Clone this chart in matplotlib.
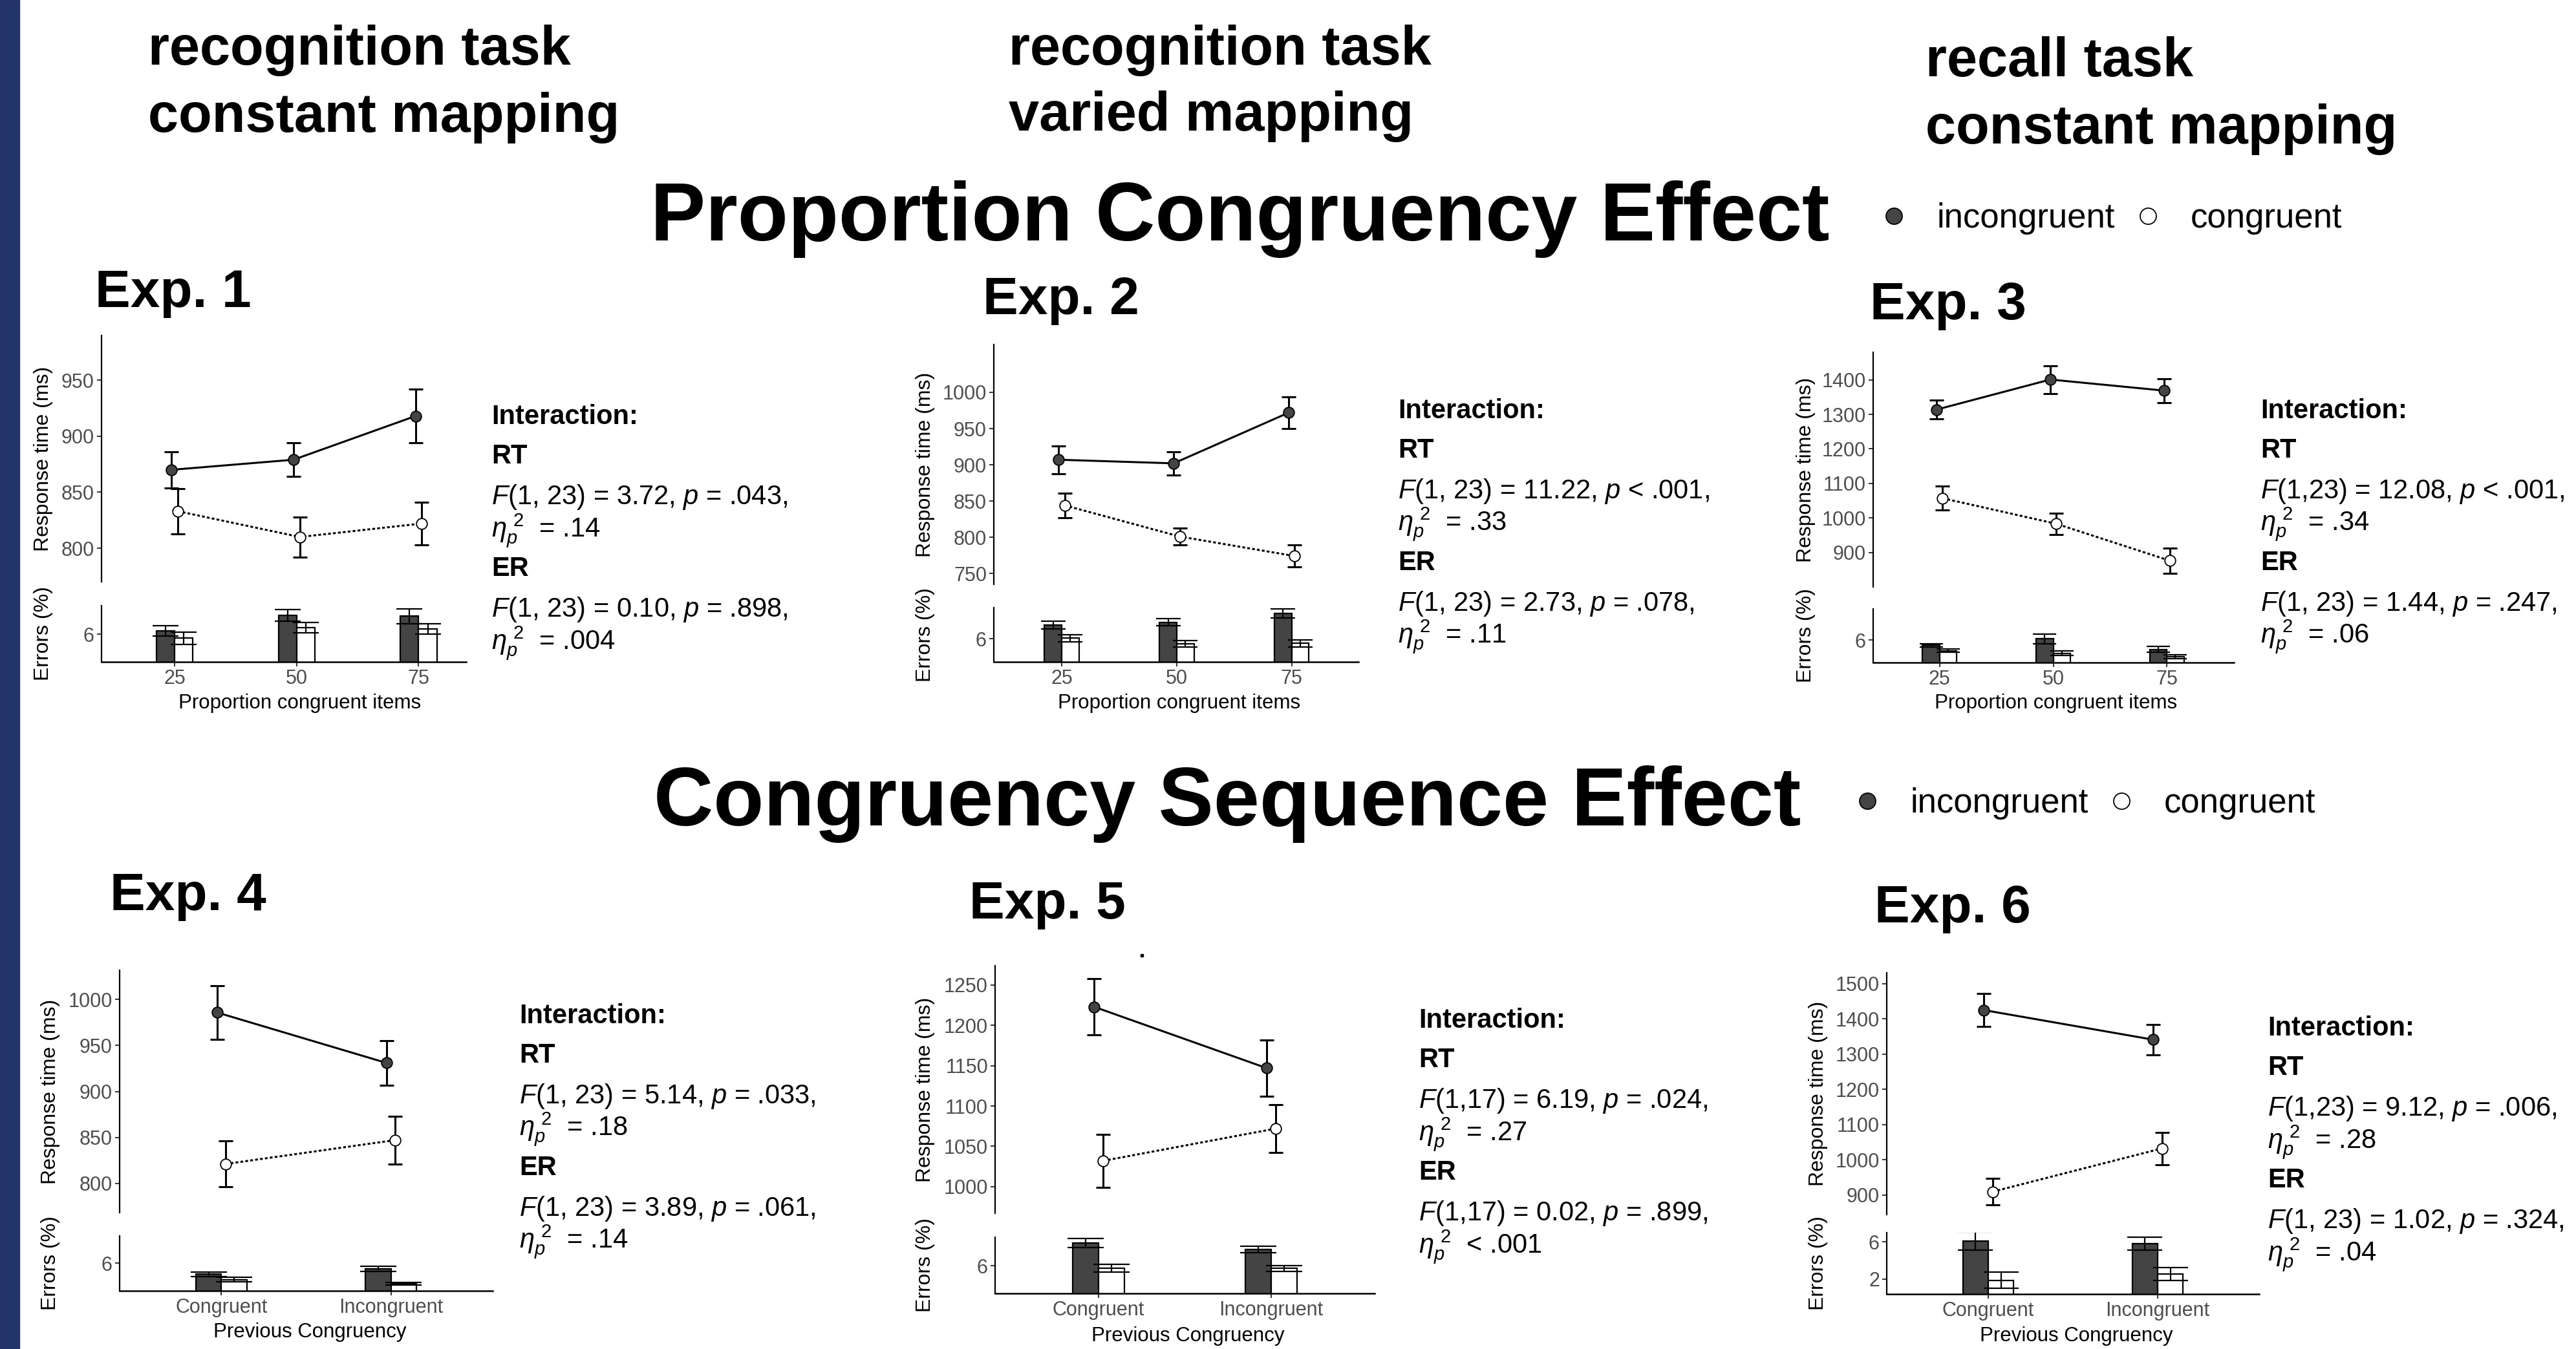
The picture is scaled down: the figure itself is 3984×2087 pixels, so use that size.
import numpy as np
import matplotlib
matplotlib.use("Agg")
import matplotlib.pyplot as plt
from matplotlib.lines import Line2D
from matplotlib.patches import Rectangle

plt.rcParams["font.family"] = ["Liberation Sans", "DejaVu Sans"]
plt.rcParams["mathtext.fontset"] = "custom"
plt.rcParams["mathtext.rm"] = "Liberation Sans"
plt.rcParams["mathtext.it"] = "Liberation Sans:italic"
plt.rcParams["mathtext.bf"] = "Liberation Sans:bold"

# ---- data ----
pc_levels = ["25", "50", "75"]
seq_levels = ["Congruent", "Incongruent"]
exp_names = ["Exp. 1", "Exp. 2", "Exp. 3", "Exp. 4", "Exp. 5", "Exp. 6"]

rt_inc = [[870, 879, 918], [907, 902, 972], [1314, 1401, 1369],
          [986, 931], [1223, 1147], [1425, 1341]]
rt_inc_se = [[16, 15, 24], [19, 16, 22], [27, 40, 35],
             [29, 24], [35, 35], [47, 43]]
rt_con = [[833, 810, 822], [844, 801, 774], [1057, 983, 876],
          [821, 847], [1032, 1072], [909, 1032]]
rt_con_se = [[20, 18, 19], [17, 12, 15], [35, 31, 37],
             [25, 26], [33, 30], [37, 46]]

er_inc = [[6.37, 8.0, 7.92], [7.46, 7.75, 8.68], [5.44, 6.14, 5.01],
          [4.82, 5.41], [8.44, 7.74], [6.08, 5.80]]
er_inc_se = [[0.54, 0.63, 0.79], [0.39, 0.37, 0.49], [0.18, 0.52, 0.28],
             [0.24, 0.28], [0.46, 0.35], [0.97, 0.70]]
er_con = [[5.58, 6.70, 6.54], [6.06, 5.44, 5.49], [4.87, 4.59, 4.25],
          [4.21, 3.79], [5.72, 5.72], [1.86, 2.54]]
er_con_se = [[0.66, 0.55, 0.56], [0.37, 0.35, 0.37], [0.18, 0.24, 0.21],
             [0.24, 0.17], [0.41, 0.31], [0.89, 0.70]]

rt_ticks = [[800, 850, 900, 950], [750, 800, 850, 900, 950, 1000],
            [900, 1000, 1100, 1200, 1300, 1400], [800, 850, 900, 950, 1000],
            [1000, 1050, 1100, 1150, 1200, 1250],
            [900, 1000, 1100, 1200, 1300, 1400, 1500]]
er_ticks = [[6], [6], [6], [6], [6], [2, 6]]

eta = r"$\eta_p^{\ 2}$"
stats = [
    ["$F$(1, 23) = 3.72, $p$ = .043,", eta + "  = .14",
     "$F$(1, 23) = 0.10, $p$ = .898,", eta + "  = .004"],
    ["$F$(1, 23) = 11.22, $p$ < .001,", eta + "  = .33",
     "$F$(1, 23) = 2.73, $p$ = .078,", eta + "  = .11"],
    ["$F$(1,23) = 12.08, $p$ < .001,", eta + "  = .34",
     "$F$(1, 23) = 1.44, $p$ = .247,", eta + "  = .06"],
    ["$F$(1, 23) = 5.14, $p$ = .033,", eta + "  = .18",
     "$F$(1, 23) = 3.89, $p$ = .061,", eta + "  = .14"],
    ["$F$(1,17) = 6.19, $p$ = .024,", eta + "  = .27",
     "$F$(1,17) = 0.02, $p$ = .899,", eta + "  < .001"],
    ["$F$(1,23) = 9.12, $p$ = .006,", eta + "  = .28",
     "$F$(1, 23) = 1.02, $p$ = .324,", eta + "  = .04"],
]

# ---- layout (pixels of the 3984x2087 canvas) ----
W, H = 3984, 2087
DPI = 100
PT = DPI / 72.0

# x0, x1, rt top, rt bottom, er top, er bottom
boxes = [
    (157, 721, 519, 900, 937, 1024),
    (1537, 2101, 533, 904, 940, 1024),
    (2897, 3455, 545, 908, 942, 1025),
    (185, 762, 1501, 1876, 1912, 1997),
    (1539, 2126, 1494, 1877, 1914, 2001),
    (2918, 3494, 1505, 1879, 1907, 2002),
]
xlims = [(0.40, 3.39), (0.41, 3.58), (0.415, 3.59), (0.4, 2.6), (0.4, 2.6), (0.4, 2.6)]
rt_lims = [(770, 990), (735, 1066), (800, 1480), (768, 1032), (967, 1274), (844, 1531)]
er_lims = [(3.04, 9.04), (3.52, 9.32), (3.61, 9.30), (3.03, 8.91), (3.06, 9.05), (0.37, 6.99)]
ylab_x = [67, 1431, 2793, 78, 1431, 2812]
xlab_pos = [(464, 1088), (1824, 1088), (3180, 1088), (479, 2061), (1837, 2067), (3211, 2067)]
stat_pos = [(760, 656), (2162, 647), (3496, 647), (803, 1583), (2194, 1590), (3507, 1602)]
stat_dy = [0, 61, 124, 174, 235, 298, 348]
exp_pos = [(147, 475), (1520, 486), (2892, 494), (170, 1408), (1499, 1421), (2899, 1427)]

dark = "#444444"
tick_col = "#4d4d4d"
dodge = 0.026
bw = 0.15


def fx(px):
    return px / W


def fy(py):
    return 1 - py / H


fig = plt.figure(figsize=(W / DPI, H / DPI), dpi=DPI, facecolor="white")


def add_ax(x0, x1, y0, y1):
    return fig.add_axes([fx(x0), fy(y1), (x1 - x0) / W, (y1 - y0) / H])


def style(ax, bottom):
    for s in ["top", "right"]:
        ax.spines[s].set_visible(False)
    ax.spines["left"].set_linewidth(1.6)
    ax.spines["bottom"].set_linewidth(1.8)
    ax.spines["bottom"].set_visible(bottom)
    ax.tick_params(length=5, width=1.4, color="#333333", labelsize=22,
                   labelcolor=tick_col, pad=3)
    ax.patch.set_alpha(0)


# navy stripe on the left edge
fig.patches.append(Rectangle((0, 0), fx(30), 1, transform=fig.transFigure,
                             color="#233569", zorder=0))

# headers
fig.text(fx(229), fy(100), "recognition task", fontsize=61, weight="bold", va="baseline")
fig.text(fx(229), fy(204), "constant mapping", fontsize=61, weight="bold", va="baseline")
fig.text(fx(1560), fy(100), "recognition task", fontsize=61, weight="bold", va="baseline")
fig.text(fx(1560), fy(202), "varied mapping", fontsize=61, weight="bold", va="baseline")
fig.text(fx(2978), fy(118), "recall task", fontsize=61, weight="bold", va="baseline")
fig.text(fx(2978), fy(222), "constant mapping", fontsize=61, weight="bold", va="baseline")

fig.text(fx(1006), fy(372), "Proportion Congruency Effect", fontsize=92,
         weight="bold", va="baseline")
fig.text(fx(1011), fy(1277), "Congruency Sequence Effect", fontsize=92,
         weight="bold", va="baseline")

handles = [Line2D([], [], ls="none", marker="o", ms=18, mfc=dark, mec="black", mew=1.3),
           Line2D([], [], ls="none", marker="o", ms=18, mfc="white", mec="black", mew=1.3)]
for lx, ly in [(2916, 338), (2875, 1243)]:
    fig.legend(handles, ["incongruent", "congruent"], loc="center left",
               bbox_to_anchor=(fx(lx), fy(ly)), ncol=2, frameon=False,
               fontsize=38, handlelength=0.5, handletextpad=1.0,
               columnspacing=0.72, borderpad=0, borderaxespad=0)

# stray dot in the original
fig.patches.append(Rectangle((fx(1764), fy(1480)), 4 / W, 4 / H,
                             transform=fig.transFigure, color="black"))

for i in range(6):
    x0, x1, t0, b0, t1, b1 = boxes[i]
    levels = pc_levels if i < 3 else seq_levels
    xs = np.arange(1, len(levels) + 1)

    fig.text(fx(exp_pos[i][0]), fy(exp_pos[i][1]), exp_names[i], fontsize=59,
             weight="bold", va="baseline")

    # response times
    ax = add_ax(x0, x1, t0, b0)
    ax.plot(xs - dodge, rt_inc[i], color="black", lw=2.2, zorder=2)
    ax.plot(xs + dodge, rt_con[i], color="black", lw=2.2, ls=(0, (1.4, 1.1)), zorder=2)
    ax.errorbar(xs - dodge, rt_inc[i], yerr=rt_inc_se[i], fmt="none", ecolor="black",
                elinewidth=2.2, capsize=8, capthick=2.2, zorder=3)
    ax.errorbar(xs + dodge, rt_con[i], yerr=rt_con_se[i], fmt="none", ecolor="black",
                elinewidth=2.2, capsize=8, capthick=2.2, zorder=3)
    ax.plot(xs - dodge, rt_inc[i], ls="none", marker="o", ms=12, mfc=dark,
            mec="black", mew=1.3, zorder=4)
    ax.plot(xs + dodge, rt_con[i], ls="none", marker="o", ms=12, mfc="white",
            mec="black", mew=1.3, zorder=4)
    ax.set_xlim(xlims[i])
    ax.set_ylim(rt_lims[i])
    ax.set_yticks(rt_ticks[i])
    ax.set_xticks([])
    style(ax, False)

    # error rates
    ax2 = add_ax(x0, x1, t1, b1)
    ppu = (x1 - x0) / (xlims[i][1] - xlims[i][0])
    cap = 0.7 * bw * ppu / PT
    ax2.bar(xs - bw / 2, er_inc[i], width=bw, color=dark, edgecolor="black", lw=1.6)
    ax2.bar(xs + bw / 2, er_con[i], width=bw, color="white", edgecolor="black", lw=1.6)
    ax2.errorbar(xs - bw / 2, er_inc[i], yerr=er_inc_se[i], fmt="none", ecolor="black",
                 elinewidth=1.6, capsize=cap, capthick=1.6)
    ax2.errorbar(xs + bw / 2, er_con[i], yerr=er_con_se[i], fmt="none", ecolor="black",
                 elinewidth=1.6, capsize=cap, capthick=1.6)
    ax2.set_xlim(xlims[i])
    ax2.set_ylim(er_lims[i])
    ax2.set_yticks(er_ticks[i])
    ax2.set_xticks(xs, levels)
    style(ax2, True)

    # axis titles
    fig.text(fx(ylab_x[i]), fy((t0 + b0) / 2), "Response time (ms)", rotation=90,
             ha="center", va="center", fontsize=23)
    fig.text(fx(ylab_x[i]), fy((t1 + b1) / 2), "Errors (%)", rotation=90,
             ha="center", va="center", fontsize=23)
    xlab = "Proportion congruent items" if i < 3 else "Previous Congruency"
    fig.text(fx(xlab_pos[i][0]), fy(xlab_pos[i][1]), xlab, ha="center", va="center",
             fontsize=22.5)

    # statistics
    sx, sy = stat_pos[i]
    lines = ["Interaction:", "RT", stats[i][0], stats[i][1], "ER", stats[i][2], stats[i][3]]
    for k, line in enumerate(lines):
        bold = line in ("Interaction:", "RT", "ER")
        fig.text(fx(sx), fy(sy + stat_dy[k]), line, fontsize=30,
                 weight="bold" if bold else "normal", va="baseline")

fig.savefig("out.png", dpi=DPI, facecolor="white")
